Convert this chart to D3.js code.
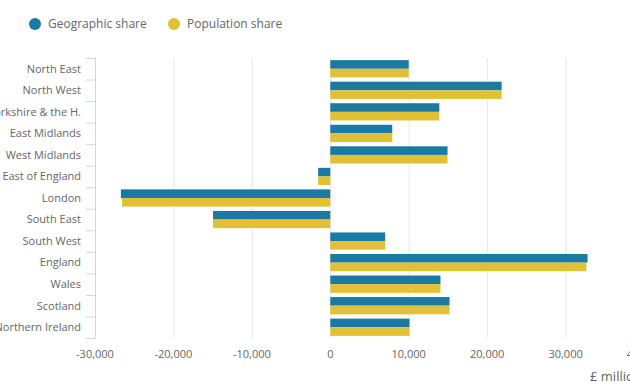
<html>

<head>
    <script src="https://d3js.org/d3.v7.min.js"></script>
    <style>
        body { margin: 0; background: #fff; }
        text { font-family: "Open Sans", sans-serif; }
    </style>
</head>

<body>
    <svg id="chart" height="392" width="630"></svg>
    <script>
        const regions = ["North East", "North West", "Yorkshire & the H.", "East Midlands", "West Midlands",
            "East of England", "London", "South East", "South West", "England", "Wales", "Scotland", "Northern Ireland"];
        const geographic = [10000, 21850, 13900, 7900, 14950, -1550, -26700, -14950, 7000, 32800, 14050, 15200, 10100];
        const population = [10000, 21850, 13900, 7900, 14950, -1550, -26550, -14950, 7000, 32650, 14050, 15200, 10100];
        const seriesNames = ["Geographic share", "Population share"];
        const colours = ["#1b7aa3", "#e1c034"];
        const xTicks = [-30000, -20000, -10000, 0, 10000, 20000, 30000, 40000];

        const svg = d3.select("#chart");
        const margins = { "top": 58, "left": 95, "bottom": 54 };
        const chartHeight = 392 - margins.top - margins.bottom;

        const xScale = d3.scaleLinear().domain([-30000, 40000]).range([95, 644]);
        const yScale = d3.scaleBand().domain(regions).range([margins.top, margins.top + chartHeight]).paddingInner(0.2).paddingOuter(0.1);
        const subScale = d3.scaleBand().domain([0, 1]).range([0, yScale.bandwidth()]);

        // gridlines
        svg.append("g")
            .attr("class", "gridlines")
            .attr("transform", "translate(0," + (margins.top + chartHeight) + ")")
            .call(d3.axisBottom(xScale).tickValues(xTicks.slice(1)).tickSize(-chartHeight).tickFormat(""))
            .call(g => g.select(".domain").remove())
            .call(g => g.selectAll("line").attr("stroke", "#e6e6e6"));

        // bars
        const data = regions.map((r, i) => ({ region: r, values: [geographic[i], population[i]] }));
        const groups = svg.append("g").selectAll("g").data(data).join("g")
            .attr("transform", d => "translate(0," + yScale(d.region) + ")");
        groups.selectAll("rect").data(d => d.values).join("rect")
            .attr("x", d => xScale(Math.min(0, d)))
            .attr("y", (d, i) => subScale(i))
            .attr("width", d => Math.abs(xScale(d) - xScale(0)))
            .attr("height", subScale.bandwidth())
            .attr("fill", (d, i) => colours[i]);

        // left axis with ticks between categories
        const bandStep = chartHeight / regions.length;
        const yAxis = svg.append("g").attr("class", "y axis");
        yAxis.append("line")
            .attr("x1", 95.5).attr("x2", 95.5)
            .attr("y1", margins.top).attr("y2", margins.top + chartHeight)
            .attr("stroke", "#ccd6eb");
        yAxis.selectAll(".tick").data(d3.range(regions.length + 1)).join("line")
            .attr("x1", 86).attr("x2", 95.5)
            .attr("y1", i => margins.top + i * bandStep + 0.5)
            .attr("y2", i => margins.top + i * bandStep + 0.5)
            .attr("stroke", "#ccd6eb");
        yAxis.selectAll("text").data(regions).join("text")
            .attr("x", 81)
            .attr("y", d => yScale(d) + yScale.bandwidth() / 2)
            .attr("dy", "0.35em")
            .attr("text-anchor", "end")
            .attr("font-size", "11px")
            .attr("fill", "#666")
            .text(d => d);

        // bottom tick labels
        const fmt = d3.format(",");
        svg.append("g").selectAll("text").data(xTicks).join("text")
            .attr("x", d => xScale(d))
            .attr("y", 358)
            .attr("text-anchor", "middle")
            .attr("font-size", "11px")
            .attr("fill", "#666")
            .text(d => fmt(d).replace("\u2212", "-"));

        svg.append("text")
            .attr("x", 590)
            .attr("y", 381)
            .attr("font-size", "13px")
            .attr("fill", "#666")
            .text("£ million");

        // legend
        const legendX = [35, 174];
        seriesNames.forEach((name, i) => {
            svg.append("circle")
                .attr("cx", legendX[i]).attr("cy", 24).attr("r", 6)
                .attr("fill", colours[i]);
            svg.append("text")
                .attr("x", legendX[i] + 13).attr("y", 24)
                .attr("dy", "0.35em")
                .attr("font-size", "12px")
                .attr("fill", "#666")
                .text(name);
        });
    </script>

</body>

</html>
